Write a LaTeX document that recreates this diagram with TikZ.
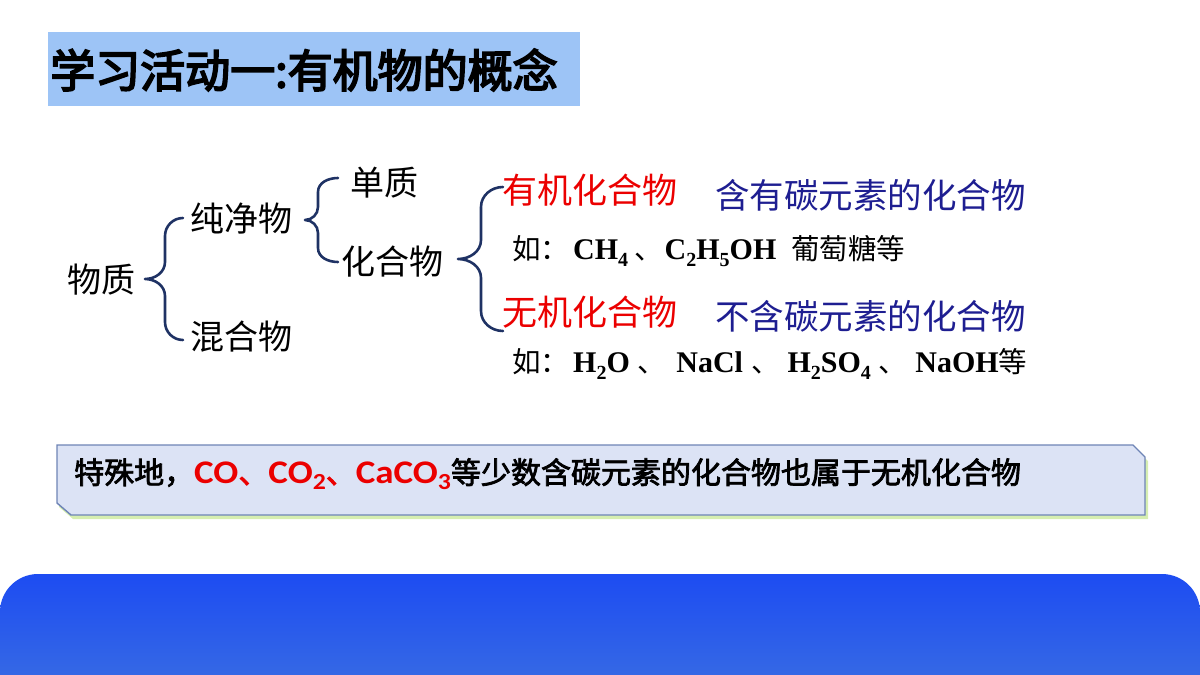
\documentclass[tikz,border=0pt]{standalone}
\usepackage{fontspec}
\setmainfont{Liberation Serif}
\newfontfamily\cjk{Noto Sans CJK SC}
\newfontfamily\cjkb[FakeBold=2.5]{Noto Sans CJK SC}
\newfontfamily\cjkh[FakeBold=4]{Noto Sans CJK SC}
\newfontfamily\carl[FakeStretch=1.12]{Carlito}
\newfontfamily\tnr{Liberation Serif}
\definecolor{titleblue}{RGB}{157,196,246}
\definecolor{bracecol}{RGB}{31,50,100}
\definecolor{navytext}{RGB}{30,30,145}
\definecolor{redtext}{RGB}{235,0,0}
\definecolor{notefill}{RGB}{220,227,245}
\definecolor{noteline}{RGB}{110,132,182}
\definecolor{noteshadow}{RGB}{214,238,176}
\definecolor{paneltop}{RGB}{29,76,242}
\definecolor{panelbot}{RGB}{53,104,229}
\tikzset{
  lbl/.style={anchor=west,inner sep=0pt,font=\cjk\fontsize{34}{40}\selectfont},
  redlbl/.style={lbl,text=redtext,font=\cjk\fontsize{35}{40}\selectfont},
  navylbl/.style={lbl,text=navytext,font=\cjk\fontsize{34.5}{40}\selectfont},
  example/.style={anchor=west,inner sep=0pt,font=\fontsize{30}{34}\selectfont},
  brace/.style={draw=bracecol,line width=2.6pt,line cap=round,line join=round},
}
\newcommand{\fb}[1]{{\tnr\bfseries #1}}
\newcommand{\ck}[1]{{\cjk\fontsize{28.5}{34}\selectfont #1}}
\newcommand{\sbs}[1]{\raisebox{-7pt}{\fontsize{20}{20}\selectfont #1}}
\newcommand{\rsb}[1]{\raisebox{-6pt}{\fontsize{23}{23}\selectfont #1}}
\newcommand{\rl}[1]{{\carl\bfseries\fontsize{33}{36}\selectfont #1}}
\begin{document}
\begin{tikzpicture}[x=1pt,y=-1pt]
\useasboundingbox (0,0) rectangle (1200,675);
% title
\fill[titleblue] (48,32) rectangle (580,106);
\node[anchor=west,inner sep=0pt,font=\cjkh\fontsize{45}{50}\selectfont] (title) at (50,70) {学习活动一:有机物的概念};
% tree labels
\node[lbl] (wz) at (67,280) {物质};
\node[lbl] (cjw) at (190,219) {纯净物};
\node[lbl] (hhw) at (190,337) {混合物};
\node[lbl] (dz) at (350,183) {单质};
\node[lbl] (hhw2) at (341,262) {化合物};
\node[redlbl] (yj) at (502,190) {有机化合物};
\node[navylbl] (yjd) at (715,195) {含有碳元素的化合物};
\node[example] (ex1) at (512,251) {\ck{如：}\hspace{4pt}\fb{CH\sbs{4}}\hspace{6pt}\ck{、}\hspace{2pt}\fb{C\sbs{2}H\sbs{5}OH}\hspace{15pt}\ck{葡萄糖等}};
\node[redlbl] (wj) at (502,312) {无机化合物};
\node[navylbl] (wjd) at (715,316) {不含碳元素的化合物};
\node[example] (ex2) at (512,364) {\ck{如：}\hspace{4pt}\fb{H\sbs{2}O}\hspace{8pt}\ck{、}\hspace{10pt}\fb{NaCl}\hspace{8pt}\ck{、}\hspace{8pt}\fb{H\sbs{2}SO\sbs{4}}\hspace{8pt}\ck{、}\hspace{8pt}\fb{NaOH}\ck{等}};
% braces
\coordinate (b1t) at (183,218); \coordinate (b1m) at (145,279); \coordinate (b1b) at (183,340);
\draw[brace] (b1t) to[out=180,in=90] (165,236) -- (165,262) to[out=-90,in=0] (b1m)
  to[out=0,in=90] (165,296) -- (165,322) to[out=-90,in=180] (b1b);
\coordinate (b2t) at (338,178); \coordinate (b2m) at (305,220); \coordinate (b2b) at (338,262);
\draw[brace] (b2t) to[out=180,in=90] (318,192) -- (318,207) to[out=-90,in=0] (b2m)
  to[out=0,in=90] (318,233) -- (318,248) to[out=-90,in=180] (b2b);
\coordinate (b3t) at (503,187); \coordinate (b3m) at (458,259); \coordinate (b3b) at (503,331);
\draw[brace] (b3t) to[out=180,in=90] (481,207) -- (481,240) to[out=-90,in=0] (b3m)
  to[out=0,in=90] (481,278) -- (481,311) to[out=-90,in=180] (b3b);
% note box
\fill[noteshadow] (59,449) -- (1135,449) -- (1148,461) -- (1148,519) -- (73,519) -- (59,507) -- cycle;
\draw[fill=notefill,draw=noteline,line width=1.4pt] (57,445) -- (1133,445) -- (1145,457) -- (1145,515) -- (71,515) -- (57,503) -- cycle;
\node[anchor=west,inner sep=0pt,font=\cjkb\fontsize{30}{36}\selectfont] (note) at (74,474)
  {特殊地，\textcolor{redtext}{\rl{CO}、\rl{CO\rsb{2}}、\rl{CaCO\rsb{3}}}等少数含碳元素的化合物也属于无机化合物};
% bottom panel
\shade[top color=paneltop,bottom color=panelbot] (0,676) [rounded corners=38pt] -- (0,574) -- (1200,574) [sharp corners] -- (1200,676) -- cycle;
\end{tikzpicture}
\end{document}
